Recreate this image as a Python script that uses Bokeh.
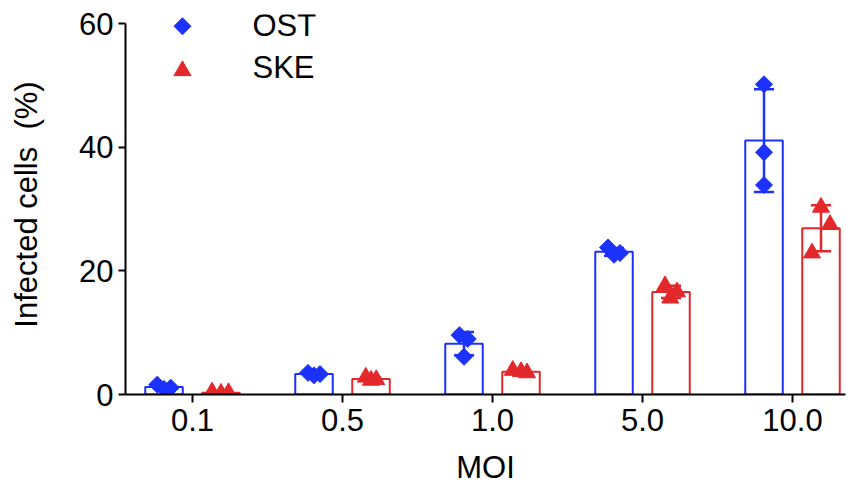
import numpy as np
from bokeh.plotting import figure
from bokeh.models import Range1d, FixedTicker
from bokeh.embed import file_html
from bokeh.resources import INLINE
from bokeh.core.properties import value

# ---- data ----
moi_labels = ["0.1", "0.5", "1.0", "5.0", "10.0"]
series_names = ["OST", "SKE"]
ost_values = [[1.6, 1.1, 0.9], [3.5, 3.3, 3.1], [9.6, 9.0, 6.1], [23.8, 22.9, 22.6], [50.2, 39.2, 33.9]]
ske_values = [[0.4, 0.2, 0.3], [2.8, 2.4, 2.3], [3.9, 3.7, 3.5], [17.6, 16.6, 15.6], [22.9, 30.3, 27.5]]
# horizontal spread of replicate points (fraction of category spacing)
ost_jitter = [[-0.045, 0.045, 0.0], [-0.04, 0.04, 0.0], [-0.03, 0.025, 0.0], [-0.04, 0.04, 0.0], [0.0, 0.0, 0.0]]
ske_jitter = [[-0.06, 0.0, 0.05], [-0.035, 0.035, 0.0], [-0.055, 0.0, 0.04], [-0.04, 0.04, -0.005], [-0.06, 0.0, 0.06]]
y_ticks = [0, 20, 40, 60]

# ---- style ----
FONT = "Liberation Sans"
FS = "31px"
BLUE = "#1c31fb"
RED = "#e3282c"
BAR_W = 0.25
BAR_OFF = 0.19
CAP = 0.067

p = figure(width=848, height=487, output_backend="svg", toolbar_location=None,
           x_range=Range1d(-0.4467, 4.3533), y_range=Range1d(0, 61.5),
           min_border_left=125, min_border_right=3, min_border_top=14, min_border_bottom=92)
p.outline_line_color = None
p.grid.visible = False
p.background_fill_color = "white"
p.border_fill_color = "white"

xs = np.arange(len(moi_labels))
specs = [
    (ost_values, ost_jitter, -BAR_OFF, BLUE, "square", 12, np.pi / 4),
    (ske_values, ske_jitter, BAR_OFF, RED, "triangle", 17, 0.0),
]
for vals, jit, off, color, marker, size, ang in specs:
    arr = np.array(vals)
    mean = arr.mean(axis=1)
    sd = arr.std(axis=1, ddof=1)
    bx = xs + off
    p.vbar(x=bx, top=mean, bottom=0, width=BAR_W, fill_color="white",
           line_color=color, line_width=2)
    p.segment(x0=bx, y0=mean - sd, x1=bx, y1=mean + sd, line_color=color, line_width=2.5)
    p.segment(x0=bx - CAP, y0=mean + sd, x1=bx + CAP, y1=mean + sd, line_color=color, line_width=2.5)
    p.segment(x0=bx - CAP, y0=mean - sd, x1=bx + CAP, y1=mean - sd, line_color=color, line_width=2.5)
    px = (bx[:, None] + np.array(jit)).ravel()
    py = arr.ravel()
    p.scatter(px, py, marker=marker, size=size, angle=ang, fill_color=color,
              line_color=color, line_width=1)

# legend (manual)
LEG_X = -0.067
LEG_TX = 0.40
p.scatter([LEG_X], [59.6], marker="square", size=12, angle=np.pi / 4,
          fill_color=BLUE, line_color=BLUE)
p.scatter([LEG_X], [52.4], marker="triangle", size=17, fill_color=RED, line_color=RED)
p.text(x=[LEG_TX, LEG_TX], y=[59.7, 52.9], text=series_names, text_font=value(FONT),
       text_font_size=FS, text_baseline="middle", text_align="left", text_color="black")

# axes
xa = p.xaxis[0]
xa.ticker = FixedTicker(ticks=list(xs))
xa.major_label_overrides = {int(i): lab for i, lab in zip(xs, moi_labels)}
xa.major_tick_out = 8
xa.major_tick_in = 0
xa.minor_tick_out = 0
xa.minor_tick_in = 0
xa.axis_line_width = 2
xa.major_tick_line_width = 2
xa.major_label_standoff = 6
xa.major_label_text_font = FONT
xa.major_label_text_font_size = FS
xa.major_label_text_color = "black"
xa.axis_label = "MOI"
xa.axis_label_text_font = FONT
xa.axis_label_text_font_size = FS
xa.axis_label_text_font_style = "normal"
xa.axis_label_text_color = "black"
xa.axis_label_standoff = 16

ya = p.yaxis[0]
ya.ticker = FixedTicker(ticks=y_ticks)
ya.bounds = (0, 60)
ya.major_tick_out = 7
ya.major_tick_in = 0
ya.minor_tick_out = 0
ya.minor_tick_in = 0
ya.axis_line_width = 2
ya.major_tick_line_width = 2
ya.major_label_standoff = 5
ya.major_label_text_font = FONT
ya.major_label_text_font_size = FS
ya.major_label_text_color = "black"
ya.axis_label = "Infected cells\u00a0 (%)"
ya.axis_label_text_font = FONT
ya.axis_label_text_font_size = FS
ya.axis_label_text_font_style = "normal"
ya.axis_label_text_color = "black"
ya.axis_label_standoff = 32

open("out.html", "w").write(file_html(p, INLINE))
